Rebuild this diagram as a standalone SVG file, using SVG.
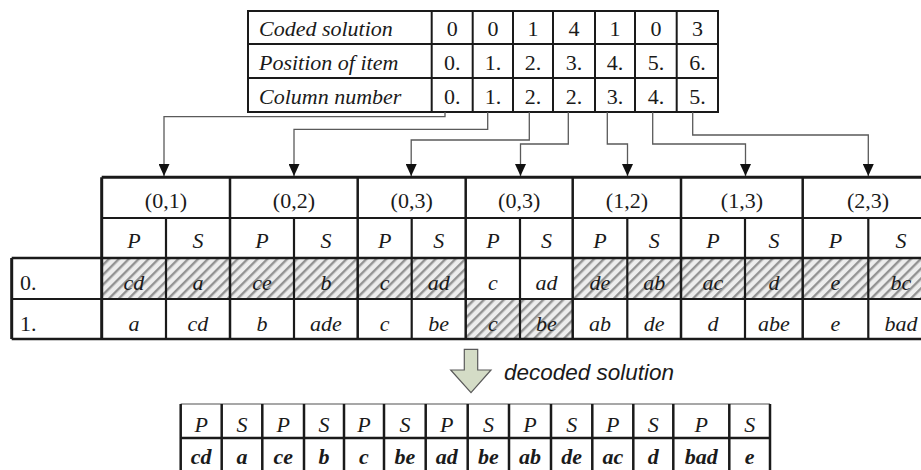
<svg xmlns="http://www.w3.org/2000/svg" width="921" height="470" viewBox="0 0 921 470">
  <style>
    .ln { stroke: #1a1a1a; fill: none; }
    .t { font-size: 22px; fill: #1a1a1a; }
    .ti { font-size: 22px; font-style: italic; fill: #1a1a1a; }
    .tb { font-size: 22px; font-style: italic; font-weight: bold; fill: #1a1a1a; }
    .c { text-anchor: middle; }
    .conn { stroke: #5a5a5a; stroke-width: 1.3; fill: none; marker-end: url(#head); }
    .hatch { fill: url(#diag); }
  </style>
  <defs>
    <pattern id="diag" width="7" height="7" patternUnits="userSpaceOnUse" patternTransform="rotate(45)">
      <rect width="7" height="7" fill="#ededed"/>
      <rect width="2.4" height="7" fill="#939393"/>
    </pattern>
    <marker id="head" markerWidth="12" markerHeight="11" refX="12" refY="5.5" orient="auto" markerUnits="userSpaceOnUse">
      <path d="M0,0 L12,5.5 L0,11 z" fill="#111"/>
    </marker>
  </defs>

  <g font-family="Liberation Serif, Times New Roman, DejaVu Serif, serif">
  <!-- encoding table -->
  <g id="code-table">
    <rect x="248" y="11" width="470" height="101" class="ln" stroke-width="2"/>
    <path class="ln" stroke-width="2" d="M248,44 H718 M248,78 H718 M431.7,11 V112 M472.7,11 V112 M513,11 V112 M553,11 V112 M595,11 V112 M635,11 V112 M676.7,11 V112"/>
    <text class="ti" x="259" y="35.5">Coded solution</text>
    <text class="ti" x="259" y="70">Position of item</text>
    <text class="ti" x="259" y="104">Column number</text>
    <g class="t c">
      <text x="452.2" y="35.5">0</text><text x="492.9" y="35.5">0</text><text x="533" y="35.5">1</text><text x="574" y="35.5">4</text><text x="615" y="35.5">1</text><text x="655.9" y="35.5">0</text><text x="697.4" y="35.5">3</text>
      <text x="452.2" y="70">0.</text><text x="492.9" y="70">1.</text><text x="533" y="70">2.</text><text x="574" y="70">3.</text><text x="615" y="70">4.</text><text x="655.9" y="70">5.</text><text x="697.4" y="70">6.</text>
      <text x="452.2" y="104">0.</text><text x="492.9" y="104">1.</text><text x="533" y="104">2.</text><text x="574" y="104">2.</text><text x="615" y="104">3.</text><text x="655.9" y="104">4.</text><text x="697.4" y="104">5.</text>
    </g>
  </g>

  <!-- column lookups -->
  <g id="connectors">
    <path class="conn" d="M445,112 V116.7 H164 V176"/>
    <path class="conn" d="M487.7,112 V129.3 H294 V176"/>
    <path class="conn" d="M529.3,112 V140 H411.2 V176"/>
    <path class="conn" d="M568.3,112 V144 H520.5 V176"/>
    <path class="conn" d="M607.3,112 V144 H627.5 V176"/>
    <path class="conn" d="M652.7,112 V144 H745.5 V176"/>
    <path class="conn" d="M692.7,112 V135 H868.3 V176"/>
  </g>

  <!-- pair table -->
  <g id="pair-table">
    <rect class="hatch" x="101.7" y="258" width="364" height="41"/>
    <rect class="hatch" x="572.7" y="258" width="352" height="41"/>
    <rect class="hatch" x="465.7" y="299" width="107" height="40"/>
    <path class="ln" stroke-width="3" d="M101.7,177.3 H925 M101.7,177.3 V339 M11.7,258 V339"/>
    <path class="ln" stroke-width="2.5" d="M11.7,258 H925 M11.7,339 H925"/>
    <path class="ln" stroke-width="2" d="M101.7,218 H925 M11.7,299 H925"/>
    <path class="ln" stroke-width="2.5" d="M230,177.3 V339 M357.7,177.3 V339 M465.7,177.3 V339 M572.7,177.3 V339 M681,177.3 V339 M802.7,177.3 V339"/>
    <path class="ln" stroke-width="2.2" d="M166,218 V339 M294,218 V339 M411.7,218 V339 M520,218 V339 M627.3,218 V339 M745,218 V339 M868.3,218 V339"/>
    <g class="t c">
      <text x="165.9" y="208">(0,1)</text>
      <text x="293.9" y="208">(0,2)</text>
      <text x="411.7" y="208">(0,3)</text>
      <text x="519.2" y="208">(0,3)</text>
      <text x="626.9" y="208">(1,2)</text>
      <text x="741.9" y="208">(1,3)</text>
      <text x="868" y="208">(2,3)</text>
    </g>
    <text class="t" x="20" y="290">0.</text>
    <text class="t" x="20" y="331">1.</text>
    <g class="ti c">
      <text x="133.9" y="248">P</text><text x="198" y="248">S</text>
      <text x="262" y="248">P</text><text x="325.9" y="248">S</text>
      <text x="384.7" y="248">P</text><text x="438.7" y="248">S</text>
      <text x="492.9" y="248">P</text><text x="546.4" y="248">S</text>
      <text x="600" y="248">P</text><text x="654.2" y="248">S</text>
      <text x="713" y="248">P</text><text x="773.9" y="248">S</text>
      <text x="835.5" y="248">P</text><text x="901" y="248">S</text>

      <text x="133.9" y="290">cd</text><text x="198" y="290">a</text>
      <text x="262" y="290">ce</text><text x="325.9" y="290">b</text>
      <text x="384.7" y="290">c</text><text x="438.7" y="290">ad</text>
      <text x="492.9" y="290">c</text><text x="546.4" y="290">ad</text>
      <text x="600" y="290">de</text><text x="654.2" y="290">ab</text>
      <text x="713" y="290">ac</text><text x="773.9" y="290">d</text>
      <text x="835.5" y="290">e</text><text x="901" y="290">bc</text>

      <text x="133.9" y="331">a</text><text x="198" y="331">cd</text>
      <text x="262" y="331">b</text><text x="325.9" y="331">ade</text>
      <text x="384.7" y="331">c</text><text x="438.7" y="331">be</text>
      <text x="492.9" y="331">c</text><text x="546.4" y="331">be</text>
      <text x="600" y="331">ab</text><text x="654.2" y="331">de</text>
      <text x="713" y="331">d</text><text x="773.9" y="331">abe</text>
      <text x="835.5" y="331">e</text><text x="901" y="331">bad</text>
    </g>
  </g>

  <!-- decoding step -->
  <g id="decode-arrow">
    <path d="M464.3,349.3 H477.7 V370 H491 L471,392.7 L450.7,370 H464.3 Z" fill="#d4dcc6" stroke="#5a5a5a" stroke-width="1.2"/>
    <text x="504" y="380" font-family="Liberation Sans, Arial, sans-serif" font-size="22.5" font-style="italic" fill="#1a1a1a">decoded solution</text>
  </g>

  <!-- decoded result -->
  <g id="result-table">
    <path stroke="#8a8a8a" stroke-width="1.5" fill="none" d="M180.7,404 H770"/>
    <path class="ln" stroke-width="2.5" d="M180.7,438 H770 M180.7,472 H770 M180.7,404 V472 M221.7,404 V472 M262.3,404 V472 M304,404 V472 M344,404 V472 M384,404 V472 M425.7,404 V472 M467.7,404 V472 M509,404 V472 M551,404 V472 M592.3,404 V472 M633.3,404 V472 M673.3,404 V472 M729.3,404 V472 M770,404 V472"/>
    <g class="ti c">
      <text x="201.2" y="431.5">P</text><text x="242" y="431.5">S</text>
      <text x="283.2" y="431.5">P</text><text x="324" y="431.5">S</text>
      <text x="364" y="431.5">P</text><text x="404.9" y="431.5">S</text>
      <text x="446.7" y="431.5">P</text><text x="488.4" y="431.5">S</text>
      <text x="530" y="431.5">P</text><text x="571.7" y="431.5">S</text>
      <text x="612.8" y="431.5">P</text><text x="653.3" y="431.5">S</text>
      <text x="701.3" y="431.5">P</text><text x="749.7" y="431.5">S</text>
    </g>
    <g class="tb c">
      <text x="201.2" y="463.5">cd</text><text x="242" y="463.5">a</text>
      <text x="283.2" y="463.5">ce</text><text x="324" y="463.5">b</text>
      <text x="364" y="463.5">c</text><text x="404.9" y="463.5">be</text>
      <text x="446.7" y="463.5">ad</text><text x="488.4" y="463.5">be</text>
      <text x="530" y="463.5">ab</text><text x="571.7" y="463.5">de</text>
      <text x="612.8" y="463.5">ac</text><text x="653.3" y="463.5">d</text>
      <text x="701.3" y="463.5">bad</text><text x="749.7" y="463.5">e</text>
    </g>
  </g>
  </g>
</svg>
